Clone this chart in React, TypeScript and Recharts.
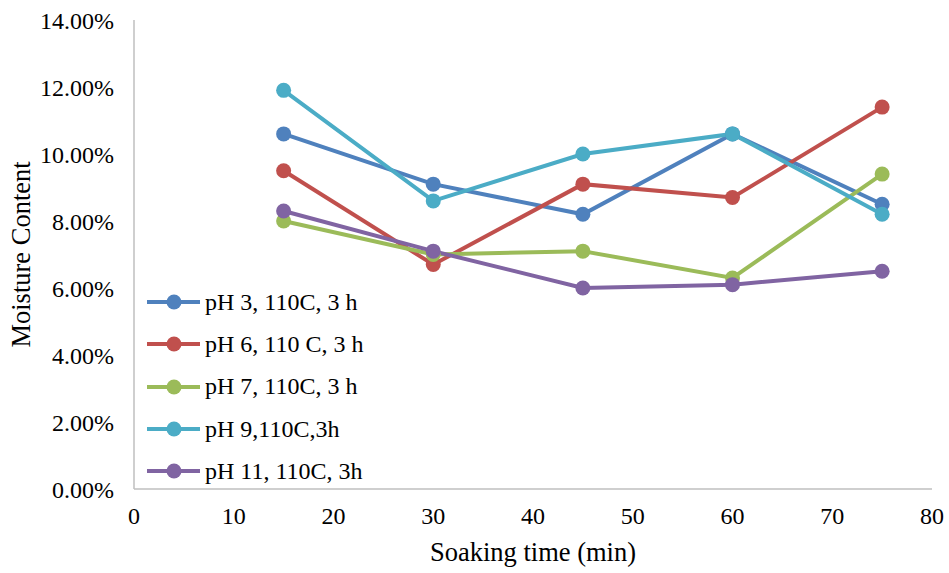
import React from 'react';
import { LineChart, Line, XAxis, YAxis, Label } from 'recharts';

// soaking time (min)
const soakTimes = [15, 30, 45, 60, 75];

// moisture content as fractions
const ph3Values = [0.106, 0.091, 0.082, 0.106, 0.085];
const ph6Values = [0.095, 0.067, 0.091, 0.087, 0.114];
const ph7Values = [0.080, 0.070, 0.071, 0.063, 0.094];
const ph9Values = [0.119, 0.086, 0.100, 0.106, 0.082];
const ph11Values = [0.083, 0.071, 0.060, 0.061, 0.065];

const xTicks = [0, 10, 20, 30, 40, 50, 60, 70, 80];
const yTicks = [0, 0.02, 0.04, 0.06, 0.08, 0.1, 0.12, 0.14];

const seriesList = [
  { key: 'ph3', name: 'pH 3, 110C, 3 h', values: ph3Values, color: '#4F81BD' },
  { key: 'ph6', name: 'pH 6, 110 C, 3 h', values: ph6Values, color: '#C0504D' },
  { key: 'ph7', name: 'pH 7, 110C, 3 h', values: ph7Values, color: '#9BBB59' },
  { key: 'ph9', name: 'pH 9,110C,3h', values: ph9Values, color: '#4BACC6' },
  { key: 'ph11', name: 'pH 11, 110C, 3h', values: ph11Values, color: '#8064A2' },
];

const FONT = '"Liberation Serif", "Times New Roman", serif';
const AXIS_COLOR = '#BFBFBF';
const TICK_SIZE = 24;
const TITLE_SIZE = 26.5;

const chartData = soakTimes.map((t, i) => {
  const row: any = { time: t };
  seriesList.forEach(s => {
    row[s.key] = s.values[i];
  });
  return row;
});

const YTitle = (props: any) => {
  const { viewBox } = props;
  const cx = 21;
  const cy = viewBox.y + viewBox.height / 2;
  return (
    <text
      x={cx}
      y={cy}
      transform={`rotate(-90 ${cx} ${cy})`}
      textAnchor="middle"
      dominantBaseline="central"
      fontFamily={FONT}
      fontSize={TITLE_SIZE}
      fill="#000"
    >
      Moisture Content
    </text>
  );
};

const XTitle = (props: any) => {
  const { viewBox } = props;
  const cx = viewBox.x + viewBox.width / 2;
  return (
    <text
      x={cx}
      y={viewBox.y + 63}
      textAnchor="middle"
      dominantBaseline="central"
      fontFamily={FONT}
      fontSize={TITLE_SIZE}
      fill="#000"
    >
      Soaking time (min)
    </text>
  );
};

const LegendBox = () => (
  <div style={{ position: 'absolute', left: 145, top: 281, fontFamily: FONT, fontSize: TICK_SIZE, color: '#000' }}>
    {seriesList.map(s => (
      <div key={s.key} style={{ display: 'flex', alignItems: 'center', height: 42.3 }}>
        <svg width={58} height={20} style={{ display: 'block' }}>
          <line x1={2} y1={10} x2={55} y2={10} stroke={s.color} strokeWidth={4} />
          <circle cx={29} cy={10} r={7.5} fill={s.color} />
        </svg>
        <span style={{ marginLeft: 2, whiteSpace: 'nowrap' }}>{s.name}</span>
      </div>
    ))}
  </div>
);

export default function App() {
  return (
    <div style={{ position: 'absolute', left: 0, top: 0, width: 949, height: 573, background: '#fff' }}>
      <LineChart
        width={949}
        height={573}
        data={chartData}
        margin={{ top: 20, right: 17, bottom: 0, left: 0 }}
      >
        <XAxis
          dataKey="time"
          type="number"
          domain={[0, 80]}
          ticks={xTicks}
          interval={0}
          height={84}
          axisLine={{ stroke: AXIS_COLOR, strokeWidth: 1.5 }}
          tickLine={false}
          tickSize={0}
          tickMargin={18}
          tick={{ fontFamily: FONT, fontSize: TICK_SIZE, fill: '#000' }}
        >
          <Label content={XTitle} />
        </XAxis>
        <YAxis
          type="number"
          domain={[0, 0.14]}
          ticks={yTicks}
          interval={0}
          width={134}
          axisLine={{ stroke: AXIS_COLOR, strokeWidth: 1.5 }}
          tickLine={false}
          tickSize={0}
          tickMargin={20}
          tick={{ fontFamily: FONT, fontSize: TICK_SIZE, fill: '#000' }}
          tickFormatter={(v: number) => `${(v * 100).toFixed(2)}%`}
        >
          <Label content={YTitle} />
        </YAxis>
        {seriesList.map(s => (
          <Line
            key={s.key}
            type="linear"
            dataKey={s.key}
            name={s.name}
            stroke={s.color}
            strokeWidth={4}
            dot={{ r: 7.5, fill: s.color, stroke: s.color, strokeWidth: 0 }}
            activeDot={false}
            isAnimationActive={false}
          />
        ))}
      </LineChart>
      <LegendBox />
    </div>
  );
}
